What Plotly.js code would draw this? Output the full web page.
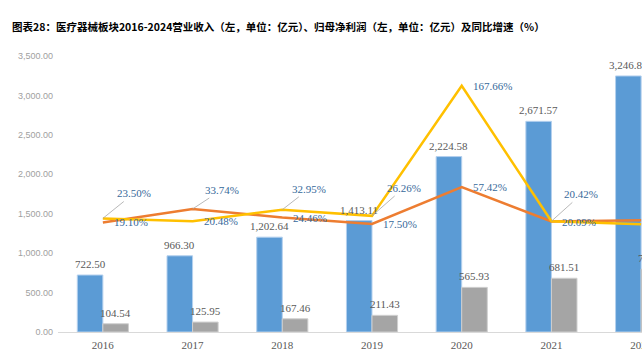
<!DOCTYPE html>
<html>
<head>
<meta charset="utf-8">
<script src="https://cdn.plot.ly/plotly-3.0.1.min.js"></script>
<style>
html, body { margin: 0; padding: 0; overflow: hidden; background: #fff; }
#chart { width: 700px; height: 350px; }
</style>
</head>
<body>
<div id="chart"></div>
<script>
// ---- data ----
const years = ['2016', '2017', '2018', '2019', '2020', '2021', '2022'];
const revenue = [722.50, 966.30, 1202.64, 1413.11, 2224.58, 2671.57, 3246.85];
const netProfit = [104.54, 125.95, 167.46, 211.43, 565.93, 681.51, 797.50];
const revenueGrowth = [19.10, 33.74, 24.46, 17.50, 57.42, 20.09, 21.53];
const profitGrowth = [23.50, 20.48, 32.95, 26.26, 167.66, 20.42, 17.02];
const yTicks = [0, 500, 1000, 1500, 2000, 2500, 3000, 3500];

// ---- label placement (styles, pixel offsets) ----
// null = plain label right of the point; [ax, ay] = label with leader line
const revLabelLeader = [null, [29, -19], null, null, null, null, null];
const profLabelLeader = [[31, -25], null, [27, -21], [32, -28], null, [30, -27], null];

const fmt2 = v => v.toLocaleString('en-US', {minimumFractionDigits: 2, maximumFractionDigits: 2});
const serif = 'Liberation Serif, Times New Roman, serif';
const barLabelColor = '#595959';
const pctColor = '#36699A';

const traces = [
  {type: 'bar', x: years, y: revenue, name: '营业收入', marker: {color: '#5B9BD5', line: {color: '#b4d0ee', width: 1}}, hoverinfo: 'skip'},
  {type: 'bar', x: years, y: netProfit, name: '归母净利润', marker: {color: '#A5A5A5', line: {color: '#cfcfcf', width: 1}}, hoverinfo: 'skip'},
  {type: 'scatter', mode: 'lines', x: years, y: revenueGrowth, yaxis: 'y2', name: '营业收入同比', line: {color: '#ED7D31', width: 2.5}, hoverinfo: 'skip'},
  {type: 'scatter', mode: 'lines', x: years, y: profitGrowth, yaxis: 'y2', name: '归母净利润同比', line: {color: '#FFC000', width: 2.5}, hoverinfo: 'skip'}
];

// category axis: annotations are positioned by category index
const annotations = [];
years.forEach((yr, i) => {
  annotations.push({x: i, y: revenue[i], xref: 'x', yref: 'y', xshift: -12.8, yshift: 3, yanchor: 'bottom', xanchor: 'center', showarrow: false,
    text: fmt2(revenue[i]), font: {family: serif, size: 11, color: barLabelColor}});
  annotations.push({x: i, y: netProfit[i], xref: 'x', yref: 'y', xshift: 12.8, yshift: 3, yanchor: 'bottom', xanchor: 'center', showarrow: false,
    text: fmt2(netProfit[i]), font: {family: serif, size: 11, color: barLabelColor}});
});
function pctLabel(i, v, leader) {
  const base = {x: i, y: v, xref: 'x', yref: 'y2', text: v.toFixed(2) + '%', font: {family: serif, size: 11, color: pctColor}};
  if (leader) {
    return Object.assign(base, {showarrow: true, ax: leader[0], ay: leader[1], arrowhead: 0, arrowwidth: 0.8, arrowcolor: '#a6a6a6', standoff: 0, startstandoff: 1});
  }
  return Object.assign(base, {showarrow: false, xanchor: 'left', yanchor: 'middle', xshift: 9});
}
years.forEach((yr, i) => {
  if (i < years.length - 1) { // 2022 growth labels lie beyond the visible edge
    annotations.push(pctLabel(i, revenueGrowth[i], revLabelLeader[i]));
    annotations.push(pctLabel(i, profitGrowth[i], profLabelLeader[i]));
  }
});

const layout = {
  width: 700, height: 350,
  margin: {l: 58, r: 14, t: 56, b: 18},
  paper_bgcolor: '#fff', plot_bgcolor: '#fff',
  showlegend: false,
  barmode: 'group', bargap: 0.43, bargroupgap: 0,
  title: {
    text: '<b>图表28：医疗器械板块2016-2024营业收入（左，单位：亿元）、归母净利润（左，单位：亿元）及同比增速（%）</b>',
    font: {family: 'Noto Sans CJK SC, sans-serif', size: 10.5, color: '#000'},
    xref: 'container', yref: 'container', x: 12 / 700, xanchor: 'left', y: 1 - 27 / 350, yanchor: 'middle'
  },
  xaxis: {
    type: 'category', range: [-0.5, 6.5], showgrid: false, zeroline: false,
    showline: true, linecolor: '#d9d9d9', linewidth: 1, ticks: '', ticklabelstandoff: 3,
    tickfont: {family: serif, size: 11, color: barLabelColor}
  },
  yaxis: {
    range: [0, 3500], tickvals: yTicks, ticktext: yTicks.map(fmt2),
    showgrid: false, zeroline: false, showline: false, ticks: '', ticklabelstandoff: 4,
    tickfont: {family: 'Liberation Sans, Arial, sans-serif', size: 9, color: '#a0a0a0'}
  },
  yaxis2: {
    overlaying: 'y', side: 'right', range: [-100, 200], visible: false, showgrid: false, zeroline: false
  },
  annotations: annotations
};

Plotly.newPlot('chart', traces, layout, {staticPlot: true, displayModeBar: false});
</script>
</body>
</html>
